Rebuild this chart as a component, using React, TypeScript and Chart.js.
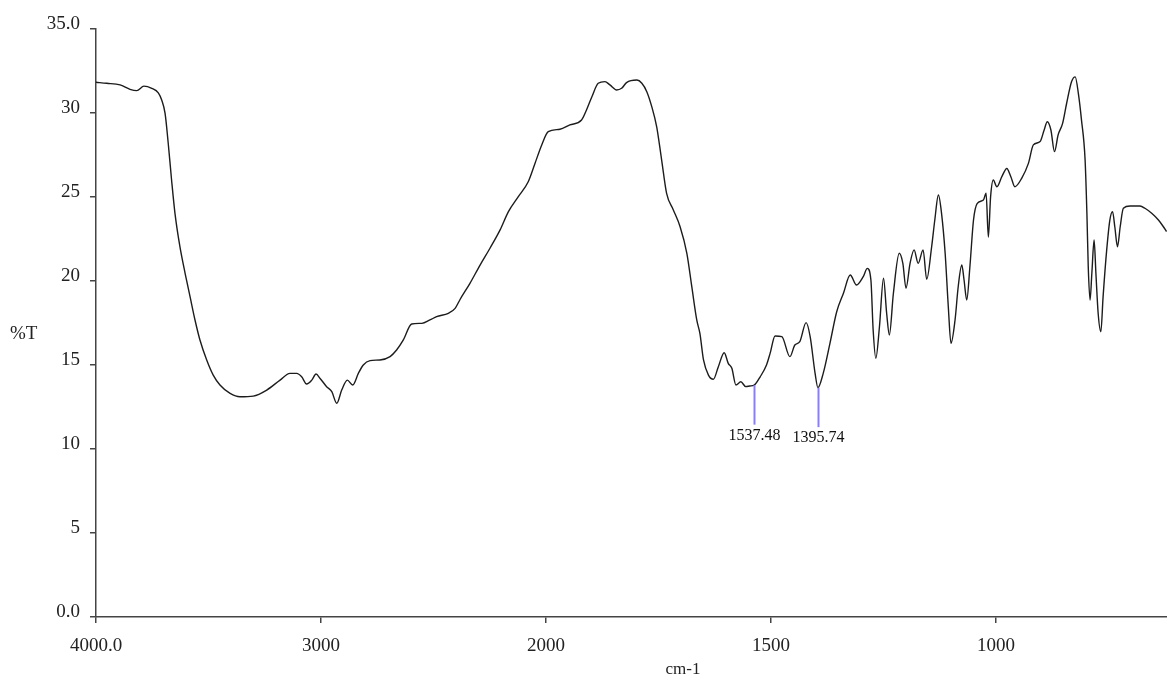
import React, { useEffect, useRef } from 'react';
import { Chart, registerables, LinearScale } from 'chart.js';

// ---- data ----
const WAVENUMBER = [
  4000, 3952, 3893, 3849, 3819, 3787, 3752, 3723, 3708, 3693, 3679, 3664, 3649, 3627, 3604, 3582, 3560, 3538, 3508, 3479,
  3449, 3404, 3360, 3301, 3241, 3182, 3138, 3108, 3086, 3064, 3041, 3022, 3004, 2975, 2952, 2930, 2908, 2883, 2859, 2834,
  2812, 2782, 2738, 2693, 2664, 2634, 2597, 2552, 2516, 2486, 2434, 2404, 2382, 2338, 2293, 2249, 2204, 2167, 2123, 2079,
  2049, 2019, 1995, 1969, 1947, 1921, 1910, 1898, 1884, 1869, 1858, 1843, 1832, 1821, 1798, 1787, 1776, 1765, 1754, 1743,
  1732, 1717, 1702, 1687, 1676, 1665, 1658, 1650, 1639, 1628, 1617, 1604, 1595, 1587, 1578, 1567, 1556, 1547, 1537.48, 1524,
  1510, 1502, 1491, 1476, 1458, 1447, 1436, 1422, 1413, 1402, 1395.74, 1384, 1369, 1354, 1339, 1324, 1310, 1295, 1286, 1278,
  1273, 1267, 1259, 1250, 1243, 1237, 1228, 1215, 1207, 1200, 1191, 1182, 1173, 1162, 1154, 1143, 1136, 1128, 1121, 1113,
  1106, 1100, 1091, 1084, 1076, 1071, 1065, 1058, 1050, 1042, 1028, 1022, 1017, 1012, 1006, 998, 987, 976, 967, 958,
  943, 928, 917, 902, 893, 886, 878, 870, 862, 852, 843, 832, 824, 817, 810, 802, 798, 795, 791, 787,
  782, 778, 773, 767, 762, 754, 747, 741, 736, 730, 724, 717, 702, 680, 669, 654, 639, 628, 621,
];
const TRANSMITTANCE = [
  31.83, 31.77, 31.67, 31.41, 31.33, 31.6, 31.47, 31.2, 30.77, 29.98, 28.2, 26.0, 24.03, 22.04, 20.46, 19.07, 17.68, 16.49, 15.3, 14.4,
  13.81, 13.31, 13.11, 13.15, 13.51, 14.1, 14.5, 14.5, 14.3, 13.87, 14.1, 14.46, 14.2, 13.71, 13.41, 12.72, 13.51, 14.1, 13.81, 14.5,
  15.0, 15.26, 15.3, 15.5, 15.89, 16.49, 17.44, 17.48, 17.68, 17.88, 18.08, 18.37, 18.9, 19.86, 20.95, 21.95, 23.04, 24.13, 25.02, 25.91,
  27.0, 28.1, 28.89, 29.03, 29.29, 29.58, 30.18, 30.97, 31.77, 31.87, 31.67, 31.37, 31.47, 31.81, 31.96, 31.77, 31.27, 30.38, 29.18, 27.2,
  25.22, 24.23, 23.23, 21.65, 19.66, 17.68, 16.88, 15.3, 14.4, 14.15, 14.9, 15.73, 15.1, 14.8, 13.81, 14.0, 13.71, 13.75, 13.8, 14.3,
  15.0, 15.69, 16.73, 16.69, 15.5, 16.19, 16.39, 17.52, 16.69, 14.5, 13.65, 14.5, 16.29, 18.17, 19.27, 20.36, 19.76, 20.26, 20.75, 20.06,
  17.08, 15.4, 17.28, 20.16, 18.08, 16.79, 19.27, 21.65, 21.05, 19.57, 21.05, 21.85, 21.05, 21.85, 20.1, 22.04, 23.63, 25.12, 24.03, 21.65,
  18.47, 16.29, 17.68, 19.66, 20.95, 20.06, 18.87, 20.85, 23.63, 24.61, 24.82, 25.22, 22.62, 25.02, 26.01, 25.61, 26.21, 26.7, 26.21, 25.61,
  26.11, 27.0, 28.1, 28.3, 28.99, 29.48, 28.99, 27.7, 28.69, 29.38, 30.58, 31.87, 32.15, 31.17, 29.58, 27.2, 24.03, 20.85, 18.87, 20.46,
  22.44, 20.46, 18.08, 16.98, 19.07, 21.85, 23.63, 24.13, 23.23, 22.04, 23.23, 24.33, 24.46, 24.46, 24.33, 24.03, 23.63, 23.23, 22.94,
];
const X_TICKS = [4000, 3000, 2000, 1500, 1000];
const Y_TICKS = [0, 5, 10, 15, 20, 25, 30, 35];
const X_MAX = 4000;
const X_MIN = 620;
const X_BREAK = 2000; // scale doubles below this wavenumber
const Y_MIN = 0;
const Y_MAX = 35;
const PEAK_WAVENUMBERS = [1537.48, 1395.74];
const PEAK_LABELS = ['1537.48', '1395.74'];
const PEAK_TOP = [13.8, 13.65];
const PEAK_BOTTOM = [11.45, 11.3];
const Y_TITLE = '%T';
const X_TITLE = 'cm-1';

const SERIF = '"Liberation Serif", "Times New Roman", serif';

// IR axis: linear from 4000 to 2000, twice the scale below 2000, reversed.
class IRScale extends LinearScale {
  static id = 'irscale';
  static defaults = LinearScale.defaults;
  irPos(v: number) {
    return v >= X_BREAK ? X_MAX - v : X_MAX - X_BREAK + (X_BREAK - v) * 2;
  }
  getPixelForValue(v: number) {
    const total = this.irPos(this.min);
    return this.left + (this.irPos(v) / total) * this.width;
  }
  getValueForPixel(p: number) {
    const total = this.irPos(this.min);
    const pos = ((p - this.left) / this.width) * total;
    return pos <= X_MAX - X_BREAK ? X_MAX - pos : X_BREAK - (pos - (X_MAX - X_BREAK)) / 2;
  }
}

Chart.register(...registerables, IRScale);

const annotationPlugin = {
  id: 'irAnnotations',
  afterDatasetsDraw(chart: any) {
    const { ctx, chartArea } = chart;
    const xs = chart.scales.x;
    const ys = chart.scales.y;
    ctx.save();
    PEAK_WAVENUMBERS.forEach((wn, i) => {
      const px = Math.round(xs.getPixelForValue(wn)) + 0.5;
      const yTop = ys.getPixelForValue(PEAK_TOP[i]);
      const yBot = ys.getPixelForValue(PEAK_BOTTOM[i]);
      ctx.strokeStyle = '#8a7cff';
      ctx.lineWidth = 2;
      ctx.beginPath();
      ctx.moveTo(px, yTop);
      ctx.lineTo(px, yBot);
      ctx.stroke();
      ctx.fillStyle = '#111';
      ctx.font = `16px ${SERIF}`;
      ctx.textAlign = 'center';
      ctx.textBaseline = 'top';
      ctx.fillText(PEAK_LABELS[i], px, yBot + 3);
    });
    ctx.fillStyle = '#222';
    ctx.font = `19px ${SERIF}`;
    ctx.textAlign = 'left';
    ctx.textBaseline = 'middle';
    ctx.fillText(Y_TITLE, 10, (chartArea.top + chartArea.bottom) / 2 + 11);
    ctx.font = `17px ${SERIF}`;
    ctx.textAlign = 'center';
    ctx.fillText(X_TITLE, 683, chartArea.bottom + 53);
    ctx.restore();
  },
};

export default function App() {
  const ref = useRef<HTMLCanvasElement>(null);
  useEffect(() => {
    document.body.style.margin = '0';
    const chart = new Chart(ref.current as HTMLCanvasElement, {
      type: 'line',
      data: {
        datasets: [
          {
            data: WAVENUMBER.map((x, i) => ({ x, y: TRANSMITTANCE[i] })),
            borderColor: '#1c1c1c',
            borderWidth: 1.4,
            pointRadius: 0,
            cubicInterpolationMode: 'monotone',
            fill: false,
          },
        ],
      },
      options: {
        animation: false,
        responsive: false,
        layout: { padding: { top: 29, left: 0, right: 0, bottom: 0 } },
        plugins: { legend: { display: false }, tooltip: { enabled: false } },
        scales: {
          x: {
            type: 'irscale' as any,
            min: X_MIN,
            max: X_MAX,
            afterBuildTicks: (s: any) => {
              s.ticks = X_TICKS.map((v) => ({ value: v }));
            },
            afterFit: (s: any) => {
              s.height = 64;
            },
            ticks: {
              autoSkip: false,
              maxRotation: 0,
              padding: 12,
              color: '#222',
              font: { family: SERIF, size: 19 },
              callback: (v: any) => (v === 4000 ? '4000.0' : String(v)),
            },
            grid: { display: true, drawOnChartArea: false, drawTicks: true, tickLength: 6, color: '#444', lineWidth: 1.5 },
            border: { display: true, color: '#444', width: 1.5 },
          },
          y: {
            type: 'linear',
            min: Y_MIN,
            max: Y_MAX,
            afterBuildTicks: (s: any) => {
              s.ticks = Y_TICKS.map((v) => ({ value: v }));
            },
            afterFit: (s: any) => {
              s.width = 96;
            },
            ticks: {
              autoSkip: false,
              padding: 10,
              labelOffset: -5,
              color: '#222',
              font: { family: SERIF, size: 19 },
              callback: (v: any) => (v === 0 ? '0.0' : v === 35 ? '35.0' : String(v)),
            },
            grid: { display: true, drawOnChartArea: false, drawTicks: true, tickLength: 6, color: '#444', lineWidth: 1.5 },
            border: { display: true, color: '#444', width: 1.5 },
          },
        },
      },
      plugins: [annotationPlugin],
    } as any);
    return () => chart.destroy();
  }, []);
  return (
    <div style={{ position: 'absolute', left: 0, top: 0, width: 1167, height: 681, background: '#fff' }}>
      <canvas ref={ref} width={1167} height={681} style={{ display: 'block' }} />
    </div>
  );
}
